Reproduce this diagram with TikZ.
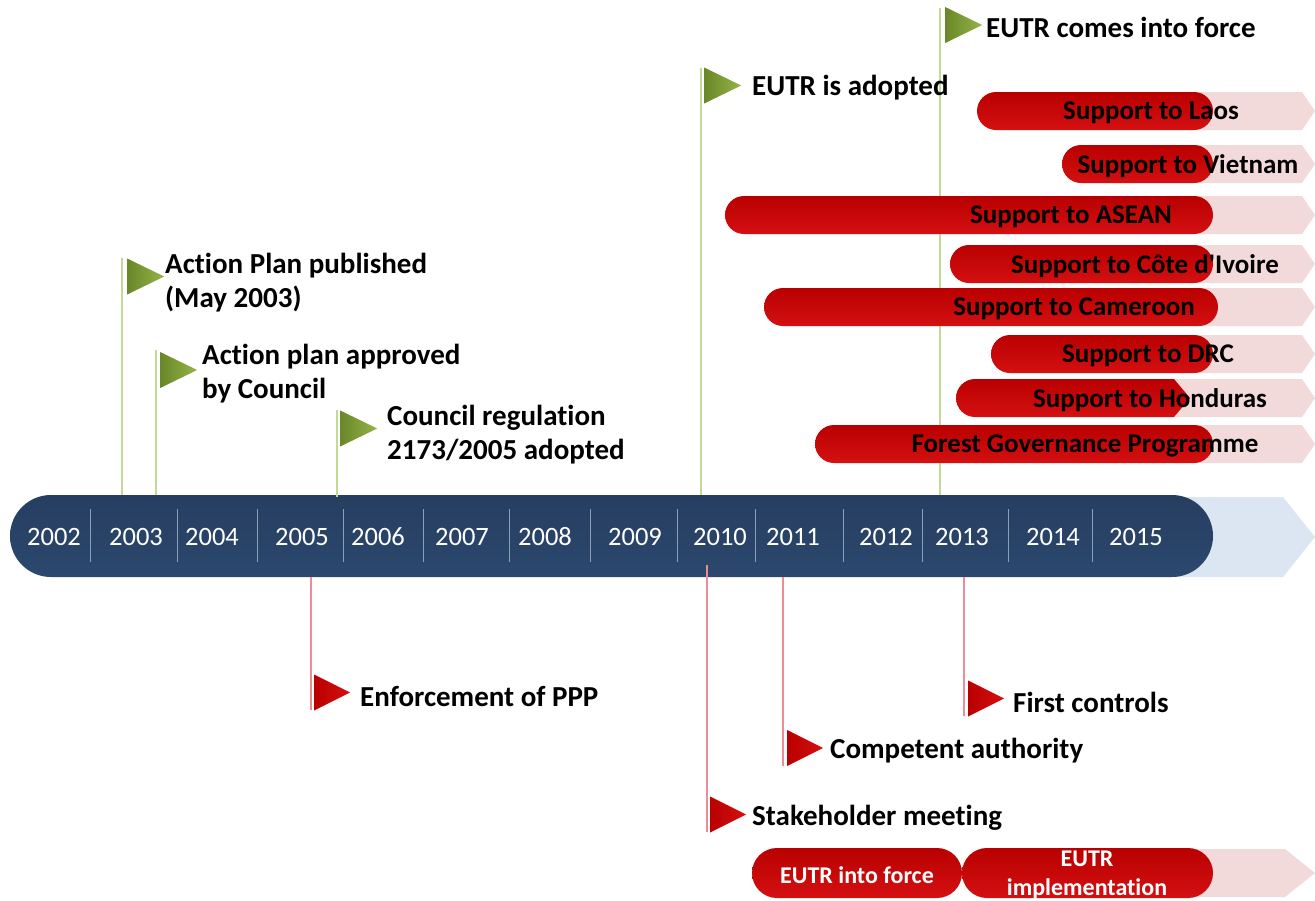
\documentclass[tikz,border=0pt]{standalone}
\usepackage{fontspec}
\setmainfont{Carlito}[Ligatures={NoCommon,TeXOff}]
\usetikzlibrary{shapes.geometric, shapes.misc}
\definecolor{barblue}{RGB}{44,72,110}
\definecolor{barbluetop}{RGB}{38,62,96}
\definecolor{paleblue}{RGB}{220,230,242}
\definecolor{palepink}{RGB}{242,218,218}
\definecolor{pillred}{RGB}{212,16,18}
\definecolor{pilldark}{RGB}{185,0,0}
\definecolor{flaggreen}{RGB}{150,180,70}
\definecolor{flagdark}{RGB}{105,135,40}
\definecolor{polegreen}{RGB}{195,218,150}
\definecolor{polered}{RGB}{236,140,150}
\definecolor{divider}{RGB}{140,158,184}

\begin{document}
\begin{tikzpicture}[x=1pt, y=-1pt,
    gflag/.style={isosceles triangle, isosceles triangle stretches, anchor=west, inner sep=0pt, minimum width=36pt, minimum height=37pt, left color=flagdark, right color=flaggreen, draw=none},
    rflag/.style={isosceles triangle, isosceles triangle stretches, anchor=west, inner sep=0pt, minimum width=36pt, minimum height=36pt, left color=pilldark, right color=pillred, draw=none},
    gpole/.style={draw=polegreen, line width=1.2pt},
    rpole/.style={draw=polered, line width=1.2pt},
    label/.style={anchor=west, inner sep=0pt, yshift=-3pt, align=left, font=\fontsize{29}{34}\selectfont\bfseries},
    redpill/.style={rounded rectangle, inner sep=0pt, draw=none, top color=pilldark, bottom color=pillred, minimum height=38pt},
    pinkrow/.style={fill=palepink, draw=none},
    rowtext/.style={inner sep=0pt, yshift=-2pt, font=\fontsize{27}{30}\selectfont\bfseries},
    year/.style={text=white, inner sep=0pt, font=\fontsize{26.5}{30}\selectfont}
]
\useasboundingbox (0,0) rectangle (1315,900);

% --- timeline ---
\fill[paleblue] (1150,497) -- (1283,497) -- (1315,537) -- (1283,577) -- (1150,577) -- cycle;
\node[rounded rectangle, inner sep=0pt, minimum width=1203pt, minimum height=82pt, top color=barbluetop, bottom color=barblue] (bar) at (611.5,536) {};
\foreach \x in {90,177,257,343,423,509,590,677,755,843,922,1008,1092}
    \draw[divider, line width=1pt] (\x,509) -- (\x,562);
\foreach \x/\y in {54/2002,136/2003,212/2004,302/2005,378/2006,462/2007,545/2008,635/2009,720/2010,793/2011,886/2012,962/2013,1053/2014,1136/2015}
    \node[year] (y\y) at (\x,537) {\y};

% --- flags above ---
\coordinate (p1) at (122,495);
\coordinate (p2) at (156,495);
\coordinate (p3) at (337,497);
\coordinate (p4) at (701,495);
\coordinate (p5) at (940,495);
\draw[gpole] (122,258) -- (p1);
\draw[gpole] (156,350) -- (p2);
\draw[gpole] (337,410) -- (p3);
\draw[gpole] (701,68) -- (p4);
\draw[gpole] (940,8) -- (p5);
\node[gflag] (f1) at (127,276.5) {};
\node[gflag] (f2) at (160,370) {};
\node[gflag] (f3) at (340,428.5) {};
\node[gflag] (f4) at (704,85.5) {};
\node[gflag] (f5) at (945,25) {};
\node[label] (t1) at (165,280) {Action Plan published\\(May 2003)};
\node[label] (t2) at (202,371) {Action plan approved\\by Council};
\node[label] (t3) at (387,432) {Council regulation\\2173/2005 adopted};
\node[label] (t4) at (752,85) {EUTR is adopted};
\node[label] (t5) at (986,24) {EUTR comes into force};

% --- flags below ---
\coordinate (q1) at (311,577);
\coordinate (q2) at (707,565);
\coordinate (q3) at (783,577);
\coordinate (q4) at (964,577);
\draw[rpole] (q1) -- (311,710);
\draw[rpole] (q2) -- (707,832);
\draw[rpole] (q3) -- (783,766);
\draw[rpole] (q4) -- (964,716);
\node[rflag] (r1) at (314,692.5) {};
\node[rflag] (r2) at (710,814.5) {};
\node[rflag] (r3) at (787,748) {};
\node[rflag] (r4) at (968,698.5) {};
\node[label] (s1) at (360,694) {Enforcement of PPP};
\node[label] (s2) at (752,815) {Stakeholder meeting};
\node[label] (s3) at (830,748) {Competent authority};
\node[label] (s4) at (1013,699) {First controls};

% --- support rows ---
\foreach \xs/\yc in {1000/111,1085/164,750/215,975/264,790/307,1015/354,980/398,840/444}
    \fill[pinkrow] (\xs,\yc-19) -- (1302,\yc-19) -- (1315,\yc) -- (1302,\yc+19) -- (\xs,\yc+19) -- cycle;
\node[redpill, minimum width=236pt] (laos) at (1095,111) {};
\node[redpill, minimum width=151pt] (vietnam) at (1137.5,164) {};
\node[redpill, minimum width=488pt] (asean) at (969,215) {};
\node[redpill, minimum width=263pt] (civ) at (1081.5,264) {};
\node[redpill, minimum width=454pt] (cameroon) at (991,307) {};
\node[redpill, minimum width=222pt] (drc) at (1102,354) {};
\path[top color=pilldark, bottom color=pillred] (975,379) -- (1174,379) -- (1190,398) -- (1174,417) -- (975,417) arc (90:270:19) -- cycle;
\node[redpill, minimum width=398pt] (fgp) at (1014,444) {};
\node[rowtext] (laost) at (1151,111) {Support to Laos};
\node[rowtext] (vietnamt) at (1188,164) {Support to Vietnam};
\node[rowtext] (aseant) at (1071,215) {Support to ASEAN};
\node[rowtext] (civt) at (1145,264) {Support to Côte d'Ivoire};
\node[rowtext] (cameroont) at (1074,307) {Support to Cameroon};
\node[rowtext] (drct) at (1148,354) {Support to DRC};
\node[rowtext] (hondurast) at (1150,398) {Support to Honduras};
\node[rowtext] (fgpt) at (1085,444) {Forest Governance Programme};

% --- bottom rows ---
\fill[pinkrow] (1190,849) -- (1285,849) -- (1315,873) -- (1285,897) -- (1190,897) -- cycle;
\node[redpill, minimum width=210pt, minimum height=50pt] (force) at (857,873) {};
\node[redpill, minimum width=251pt, minimum height=50pt] (impl) at (1087.5,873) {};
\node[rowtext, text=white, font=\fontsize{24}{29}\selectfont\bfseries] (forcet) at (force) {EUTR into force};
\node[rowtext, text=white, align=center, font=\fontsize{24}{29}\selectfont\bfseries] (implt) at (1087,873) {EUTR\\implementation};
\end{tikzpicture}
\end{document}
